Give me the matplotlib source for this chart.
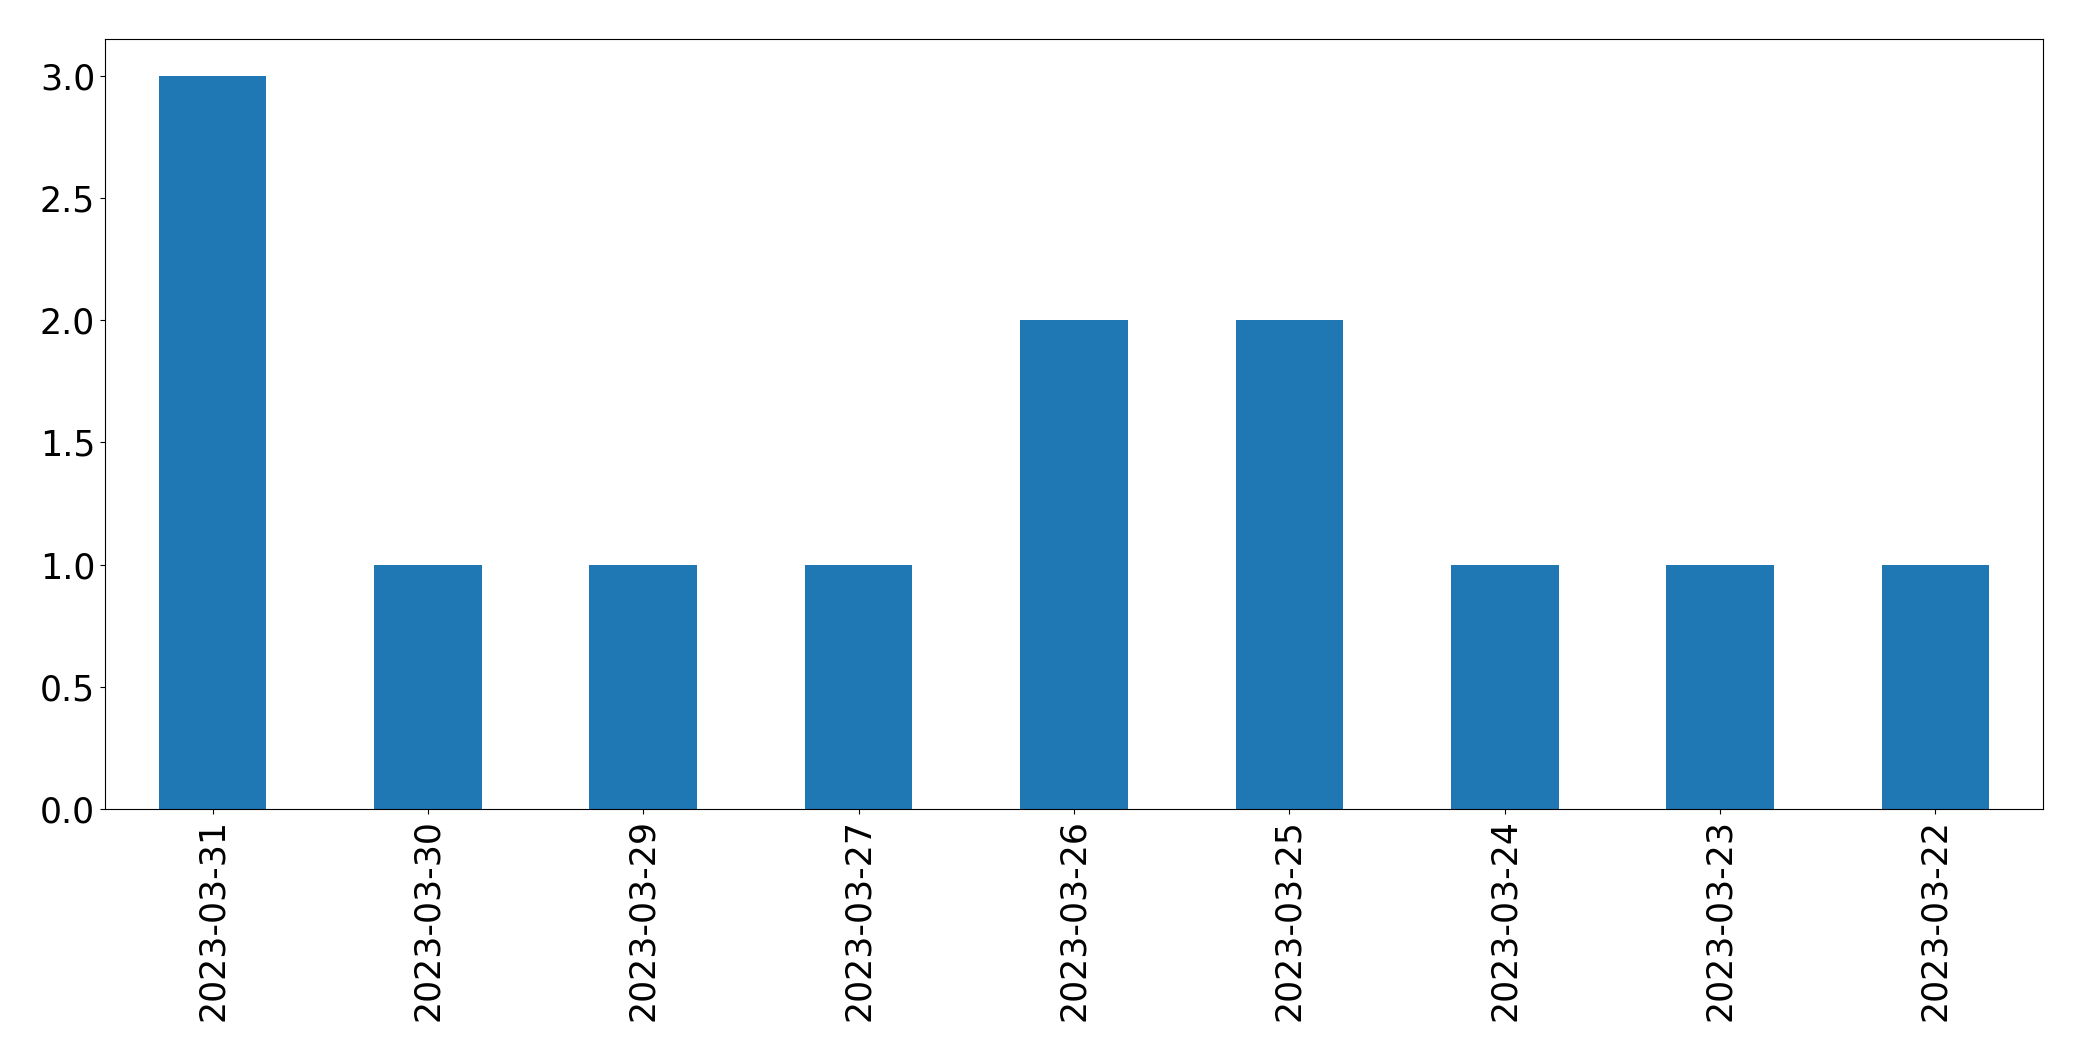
import numpy as np
import pandas as pd
import matplotlib
matplotlib.use('Agg')
import matplotlib.pyplot as plt

dates = ['2023-03-31', '2023-03-30', '2023-03-29', '2023-03-27', '2023-03-26',
         '2023-03-25', '2023-03-24', '2023-03-23', '2023-03-22']
counts = [3, 1, 1, 1, 2, 2, 1, 1, 1]

s = pd.Series(counts, index=dates)

fig = plt.figure(figsize=(20.82, 10.61), dpi=100)
ax = fig.add_subplot(111)
s.plot(kind='bar', ax=ax, fontsize=25, color='#1f77b4')
fig.subplots_adjust(left=0.0504, right=0.9813, top=0.9632, bottom=0.2375)
fig.savefig('out.png', dpi=100)
